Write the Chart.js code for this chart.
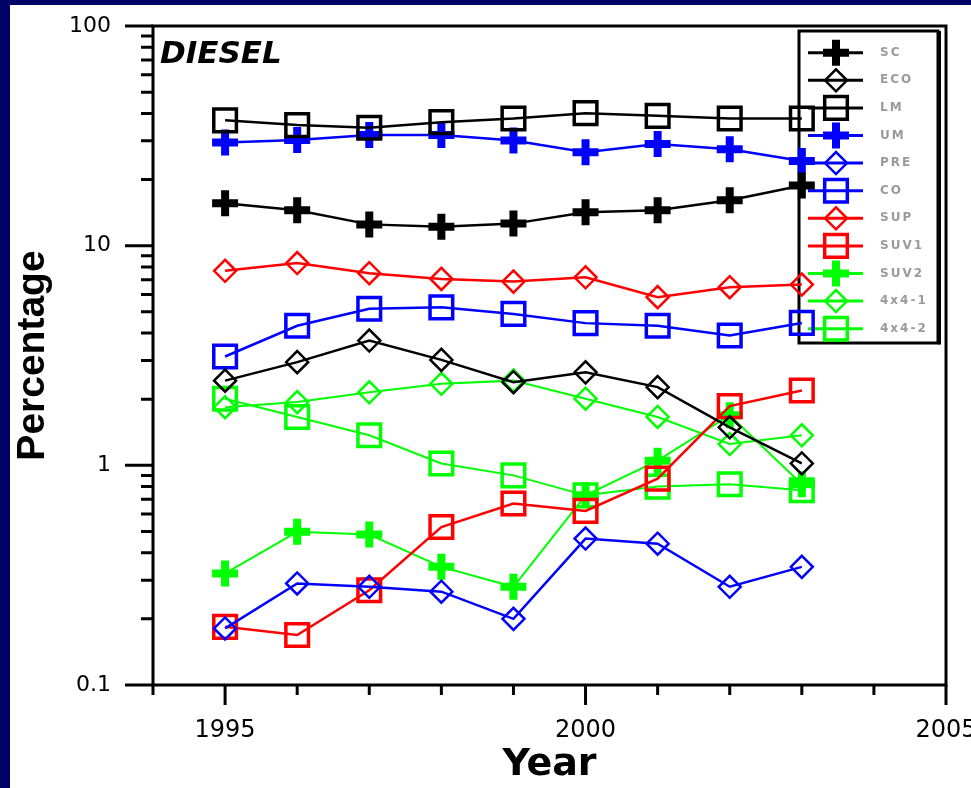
<!DOCTYPE html>
<html>
<head>
<meta charset="utf-8">
<title>Diesel percentage by class</title>
<script src="https://cdn.jsdelivr.net/npm/chart.js@4.4.1/dist/chart.umd.min.js"></script>
<style>
  html, body { margin: 0; padding: 0; background: #000066; overflow: hidden; }
  #panel { position: absolute; left: 10px; top: 5px; width: 961px; height: 783px; background: #fff; }
</style>
</head>
<body>
<div id="panel"><canvas id="chart" width="961" height="783"></canvas></div>
<script>
// values (log scale, percent)
var years = [1995, 1996, 1997, 1998, 1999, 2000, 2001, 2002, 2003];
var sc   = [15.6, 14.5, 12.5, 12.2, 12.6, 14.2, 14.5, 16.1, 18.8];
var eco  = [2.43, 2.95, 3.70, 3.02, 2.39, 2.65, 2.27, 1.49, 1.02];
var lm   = [37.2, 35.4, 34.4, 36.5, 37.9, 40.1, 39.0, 37.9, 37.9];
var um   = [29.5, 30.3, 31.9, 31.9, 30.1, 26.6, 29.0, 27.5, 24.3];
var pre  = [0.181, 0.29, 0.28, 0.266, 0.20, 0.464, 0.44, 0.28, 0.345];
var co   = [3.13, 4.32, 5.16, 5.24, 4.89, 4.44, 4.32, 3.90, 4.45];
var sup  = [7.68, 8.33, 7.49, 7.06, 6.86, 7.18, 5.83, 6.47, 6.65];
var suv1 = [0.184, 0.169, 0.27, 0.524, 0.67, 0.62, 0.87, 1.86, 2.19];
var suv2 = [0.322, 0.498, 0.484, 0.345, 0.28, 0.73, 1.05, 1.69, 0.82];
var x4a  = [1.84, 1.94, 2.15, 2.35, 2.43, 2.01, 1.66, 1.25, 1.37];
var x4b  = [2.01, 1.66, 1.37, 1.02, 0.90, 0.73, 0.80, 0.82, 0.77];

var seriesNames  = ['SC', 'ECO', 'LM', 'UM', 'PRE', 'CO', 'SUP', 'SUV1', 'SUV2', '4x4-1', '4x4-2'];
var seriesValues = [sc, eco, lm, um, pre, co, sup, suv1, suv2, x4a, x4b];
var xTickLabels  = ['1995', '2000', '2005'];
var yTickLabels  = ['0.1', '1', '10', '100'];

// look of each series: colour + marker kind
var seriesStyle = [
  ['#000000', 'cross'], ['#000000', 'diamond'], ['#000000', 'square'],
  ['#0000ff', 'cross'], ['#0000ff', 'diamond'], ['#0000ff', 'square'],
  ['#ff0000', 'diamond'], ['#ff0000', 'square'],
  ['#00ff00', 'cross'], ['#00ff00', 'diamond'], ['#00ff00', 'square']
];
var markers = {
  cross:   { pointStyle: 'cross',   radius: 13, borderWidth: 8 },
  diamond: { pointStyle: 'rectRot', radius: 11, borderWidth: 2.5 },
  square:  { pointStyle: 'rect',    radius: 16, borderWidth: 3.5 }
};

function isDecade(v) {
  var l = Math.log10(v);
  return Math.abs(l - Math.round(l)) < 1e-6;
}

var datasets = seriesNames.map(function (name, i) {
  var st = seriesStyle[i], m = markers[st[1]];
  return {
    label: name,
    data: years.map(function (yr, j) { return { x: yr, y: seriesValues[i][j] }; }),
    borderColor: st[0],
    backgroundColor: 'rgba(0,0,0,0)',
    borderWidth: st[0] === '#00ff00' ? 2 : 2.5,
    pointStyle: m.pointStyle,
    pointRadius: m.radius,
    pointHoverRadius: m.radius,
    pointBorderWidth: m.borderWidth,
    pointBorderColor: st[0],
    pointBackgroundColor: 'rgba(0,0,0,0)',
    tension: 0,
    fill: false
  };
});

// frame, hand-sized tick marks and the DIESEL tag
var framePlugin = {
  id: 'frame',
  beforeDatasetsDraw: function (chart) {
    var ctx = chart.ctx, ca = chart.chartArea;
    var xs = chart.scales.x, ys = chart.scales.y;
    ctx.save();
    ctx.strokeStyle = '#000';
    ctx.lineWidth = 3;
    ctx.strokeRect(ca.left, ca.top, ca.right - ca.left, ca.bottom - ca.top);

    ctx.beginPath();
    for (var e = -1; e <= 1; e++) {
      for (var k = 1; k <= 9; k++) {
        var v = k * Math.pow(10, e);
        var py = ys.getPixelForValue(v);
        var len = k === 1 ? 28 : 12;
        ctx.moveTo(ca.left - len, py);
        ctx.lineTo(ca.left, py);
      }
    }
    var pTop = ys.getPixelForValue(100);
    ctx.moveTo(ca.left - 28, pTop);
    ctx.lineTo(ca.left, pTop);
    for (var yr = 1994; yr <= 2005; yr++) {
      var px = xs.getPixelForValue(yr);
      var l = yr % 5 === 0 ? 20 : 10;
      ctx.moveTo(px, ca.bottom);
      ctx.lineTo(px, ca.bottom + l);
    }
    ctx.stroke();

    ctx.fillStyle = '#000';
    ctx.font = 'italic bold 31px "DejaVu Sans"';
    ctx.textBaseline = 'alphabetic';
    ctx.textAlign = 'left';
    ctx.fillText('DIESEL', ca.left + 7, ca.top + 37);
    ctx.restore();
  }
};

// boxed legend in the upper right, drawn under the data like the original
var legendPlugin = {
  id: 'legendBox',
  beforeDatasetsDraw: function (chart) {
    var ctx = chart.ctx, ca = chart.chartArea;
    var left = ca.right - 147, top = ca.top + 5, w = 139, h = 312;
    ctx.save();
    ctx.fillStyle = '#fff';
    ctx.fillRect(left, top, w, h);
    ctx.strokeStyle = '#000';
    ctx.lineWidth = 3;
    ctx.strokeRect(left, top, w, h);
    ctx.fillStyle = '#000';
    ctx.fillRect(left + w, top, 3, h + 1.5);

    chart.data.datasets.forEach(function (ds, i) {
      var y = top + 21.7 + i * 27.6;
      ctx.strokeStyle = ds.borderColor;
      ctx.lineWidth = 3;
      ctx.beginPath();
      ctx.moveTo(left + 9, y);
      ctx.lineTo(left + 64, y);
      ctx.stroke();
      ctx.lineWidth = ds.pointBorderWidth;
      ctx.fillStyle = 'rgba(0,0,0,0)';
      Chart.helpers.drawPoint(ctx, {
        pointStyle: ds.pointStyle, radius: ds.pointRadius,
        borderWidth: ds.pointBorderWidth, rotation: 0
      }, left + 37, y);
      ctx.fillStyle = '#9a9a9a';
      ctx.font = 'bold 12px "DejaVu Sans"';
      ctx.letterSpacing = '2px';
      ctx.textBaseline = 'middle';
      ctx.textAlign = 'left';
      ctx.fillText(ds.label, left + 81, y);
    });
    ctx.restore();
  }
};

new Chart(document.getElementById('chart'), {
  type: 'line',
  data: { datasets: datasets },
  options: {
    responsive: false,
    animation: false,
    events: [],
    layout: { padding: { left: 0, right: 25, top: 20, bottom: 0 } },
    plugins: {
      legend: { display: false },
      tooltip: { enabled: false },
      title: { display: false }
    },
    scales: {
      x: {
        type: 'linear',
        min: 1994,
        max: 2005,
        grid: { display: false, drawTicks: false },
        border: { display: false },
        ticks: {
          stepSize: 1,
          autoSkip: false,
          maxRotation: 0,
          padding: 31,
          color: '#000',
          font: { family: 'DejaVu Sans', size: 24 },
          callback: function (v) {
            var s = String(v);
            return xTickLabels.indexOf(s) >= 0 ? s : '';
          }
        },
        title: {
          display: true,
          text: 'Year',
          color: '#000',
          padding: 0,
          font: { family: 'DejaVu Sans', weight: 'bold', size: 38 }
        },
        afterFit: function (s) { s.height = 103; s.paddingLeft = 0; s.paddingRight = 0; }
      },
      y: {
        type: 'logarithmic',
        min: 0.1,
        max: 100,
        grid: { display: false, drawTicks: false },
        border: { display: false },
        ticks: {
          autoSkip: false,
          padding: 42,
          color: '#000',
          font: { family: 'DejaVu Sans', size: 22 },
          callback: function (v) {
            if (!isDecade(v)) return '';
            var idx = Math.round(Math.log10(v)) + 1;
            return yTickLabels[idx] || '';
          }
        },
        title: {
          display: true,
          text: 'Percentage',
          color: '#000',
          padding: 0,
          font: { family: 'Liberation Sans', weight: 'bold', size: 39 }
        },
        afterFit: function (s) { s.width = 143; s.paddingTop = 0; s.paddingBottom = 0; }
      }
    }
  },
  plugins: [framePlugin, legendPlugin]
});
</script>
</body>
</html>
